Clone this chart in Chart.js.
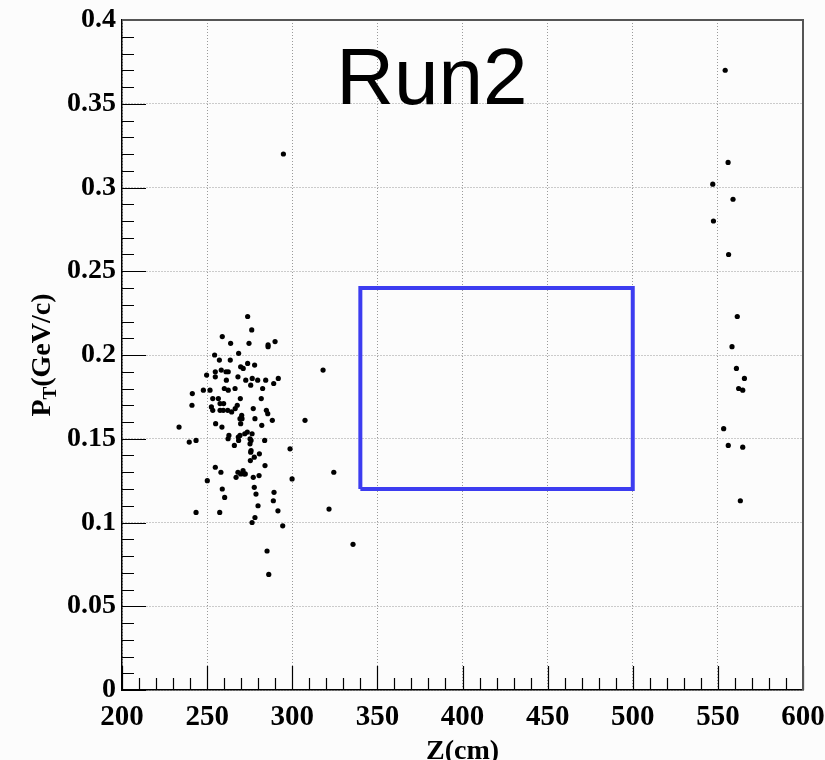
<!DOCTYPE html>
<html>
<head>
<meta charset="utf-8">
<title>Run2</title>
<script src="https://cdn.jsdelivr.net/npm/chart.js@4.4.1/dist/chart.umd.min.js"></script>
<style>
  html, body { margin: 0; padding: 0; background: #fcfcfc; }
  #wrap { width: 825px; height: 760px; }
</style>
</head>
<body>
<div id="wrap"><canvas id="chartCanvas" width="825" height="760"></canvas></div>
<script>
// --- data ---
// main cluster near the target (Z in cm, PT in GeV/c)
const clusterZ = [
  273.8, 276.2, 258.9, 263.8, 274.6, 285.8, 285.8, 289.9, 254.4, 268.5,
  257.2, 263.6, 273.8, 277.9, 269.7, 271.2, 258.3, 254.8, 261.1, 262.4,
  249.7, 254.8, 268.1, 272.7, 276.5, 279.7, 284.4, 291.8, 261.3, 275.6,
  289.1, 247.8, 251.7, 260.1, 262.4, 266.4, 282.6, 241.3, 253.3, 256.6,
  269.5, 281.8, 241.1, 252.5, 257.6, 259.7, 267.7, 253.3, 257.6, 259.5,
  262.1, 266.5, 277.1, 284.8, 264.4, 285.6, 270.3, 269.3, 270.5, 278.1,
  288.3, 269.7, 282.1, 255.0, 258.7, 233.5, 262.8, 262.3, 239.5, 243.5,
  268.3, 269.3, 268.5, 272.1, 273.6, 276.4, 275.2, 275.8, 275.2, 283.8,
  266.0, 298.7, 275.8, 275.6, 280.7, 277.7, 275.4, 284.0, 254.8, 258.1,
  268.1, 271.1, 271.7, 269.7, 272.4, 280.5, 277.1, 267.0, 299.9, 250.1,
  258.9, 277.7, 260.3, 278.7, 289.3, 288.9, 279.9, 257.4, 243.5, 291.6,
  278.1, 276.4, 294.4, 285.2, 286.2
];
const clusterPt = [
  0.223, 0.215, 0.211, 0.207, 0.207, 0.206, 0.205, 0.208, 0.200, 0.201,
  0.197, 0.197, 0.195, 0.194, 0.193, 0.192, 0.191, 0.190, 0.190, 0.190,
  0.188, 0.187, 0.187, 0.185, 0.186, 0.185, 0.185, 0.186, 0.185, 0.182,
  0.183, 0.179, 0.179, 0.180, 0.179, 0.180, 0.180, 0.177, 0.174, 0.174,
  0.174, 0.174, 0.170, 0.169, 0.171, 0.171, 0.170, 0.167, 0.167, 0.167,
  0.167, 0.168, 0.168, 0.167, 0.166, 0.165, 0.164, 0.162, 0.162, 0.162,
  0.161, 0.159, 0.158, 0.159, 0.157, 0.157, 0.152, 0.150, 0.148, 0.149,
  0.151, 0.152, 0.149, 0.153, 0.154, 0.153, 0.150, 0.149, 0.147, 0.149,
  0.146, 0.144, 0.143, 0.142, 0.141, 0.139, 0.137, 0.134, 0.133, 0.130,
  0.130, 0.131, 0.129, 0.129, 0.129, 0.128, 0.127, 0.127, 0.126, 0.125,
  0.120, 0.121, 0.115, 0.117, 0.118, 0.113, 0.110, 0.106, 0.106, 0.107,
  0.103, 0.100, 0.098, 0.083, 0.069
];

// scattered points between the cluster and the box
const strayZ = [318.1, 307.5, 324.4, 321.6, 294.8, 335.7];
const strayPt = [0.191, 0.161, 0.130, 0.108, 0.320, 0.087];

// points near Z = 550 cm
const farZ = [554.3, 556.0, 547.0, 558.9, 547.4, 556.3, 561.4, 558.3, 560.9,
  565.6, 562.2, 564.6, 553.4, 556.1, 564.6, 563.2];
const farPt = [0.370, 0.315, 0.302, 0.293, 0.280, 0.260, 0.223, 0.205, 0.192,
  0.186, 0.180, 0.179, 0.156, 0.146, 0.145, 0.113];

// selection window
const boxZ = [340, 340, 500, 500, 340];
const boxPt = [0.12, 0.24, 0.24, 0.12, 0.12];

// axes
const zRange = [200, 600];
const ptRange = [0, 0.4];

const toPoints = (xs, ys) => xs.map((x, i) => ({ x, y: ys[i] }));

// ROOT style frame: inner ticks, grey top/right edges, titles
const rootFrame = {
  id: "rootFrame",
  afterDraw(chart) {
    const { ctx, chartArea: a, scales: { x, y } } = chart;
    ctx.save();

    // ticks pointing into the frame
    ctx.strokeStyle = "#000";
    ctx.lineWidth = 1.2;
    ctx.beginPath();
    for (let i = 0; i <= 40; i++) {
      const py = Math.round(y.getPixelForValue(i * 0.01)) + 0.5;
      const len = i % 5 === 0 ? 24 : 12;
      ctx.moveTo(a.left, py);
      ctx.lineTo(a.left + len, py);
    }
    for (let i = 0; i <= 40; i++) {
      const px = Math.round(x.getPixelForValue(200 + i * 10)) + 0.5;
      const len = i % 5 === 0 ? 24 : 12;
      ctx.moveTo(px, a.bottom);
      ctx.lineTo(px, a.bottom - len);
    }
    ctx.stroke();

    // top and right edges
    ctx.strokeStyle = "#555";
    ctx.lineWidth = 2;
    ctx.beginPath();
    ctx.moveTo(a.left, a.top);
    ctx.lineTo(a.right, a.top);
    ctx.lineTo(a.right, a.bottom);
    ctx.stroke();

    // big label inside the frame
    ctx.fillStyle = "#000";
    ctx.font = '80px "Liberation Sans", Arial, sans-serif';
    ctx.textAlign = "center";
    ctx.textBaseline = "alphabetic";
    ctx.fillText("Run2", x.getPixelForValue(382), y.getPixelForValue(0.35));

    // x title
    ctx.font = 'bold 28px "Liberation Serif", "Times New Roman", serif';
    ctx.fillText("Z(cm)", (a.left + a.right) / 2, 759);

    // y title with subscript T
    const big = 'bold 28px "Liberation Serif", "Times New Roman", serif';
    const small = 'bold 19px "Liberation Serif", "Times New Roman", serif';
    ctx.font = big;
    const wP = ctx.measureText("P").width;
    const wRest = ctx.measureText("(GeV/c)").width;
    ctx.font = small;
    const wT = ctx.measureText("T").width;
    const total = wP + wT + wRest;
    ctx.translate(50, 355);
    ctx.rotate(-Math.PI / 2);
    ctx.textAlign = "left";
    let cx = -total / 2;
    ctx.font = big;
    ctx.fillText("P", cx, 0);
    cx += wP;
    ctx.font = small;
    ctx.fillText("T", cx, 6);
    cx += wT;
    ctx.font = big;
    ctx.fillText("(GeV/c)", cx, 0);

    ctx.restore();
  }
};

const dot = { pointRadius: 2.6, pointBackgroundColor: "#000", pointBorderWidth: 0, showLine: false };

const config = {
  type: "scatter",
  data: {
    datasets: [
      { label: "cluster", data: toPoints(clusterZ, clusterPt), ...dot },
      { label: "stray", data: toPoints(strayZ, strayPt), ...dot },
      { label: "far", data: toPoints(farZ, farPt), ...dot },
      {
        label: "window",
        data: toPoints(boxZ, boxPt),
        showLine: true,
        borderColor: "#3c3cf0",
        borderWidth: 4,
        pointRadius: 0,
        fill: false
      }
    ]
  },
  options: {
    responsive: false,
    animation: false,
    layout: { padding: { top: 20, right: 22, left: 0, bottom: 0 } },
    plugins: { legend: { display: false }, tooltip: { enabled: false } },
    scales: {
      x: {
        type: "linear",
        min: zRange[0],
        max: zRange[1],
        afterFit: s => { s.height = 70; s.paddingLeft = 0; s.paddingRight = 0; },
        ticks: {
          stepSize: 50,
          autoSkip: false,
          maxRotation: 0,
          padding: 10,
          color: "#000",
          font: { family: '"Liberation Serif", "Times New Roman", serif', size: 29, weight: "bold" }
        },
        grid: { color: "#9a9a9a", lineWidth: 1, drawTicks: false },
        border: { display: true, color: "#000", width: 1.5, dash: [1, 2] }
      },
      y: {
        type: "linear",
        min: ptRange[0],
        max: ptRange[1],
        afterFit: s => { s.width = 122; s.paddingTop = 0; s.paddingBottom = 0; },
        ticks: {
          stepSize: 0.05,
          padding: 6,
          color: "#000",
          font: { family: '"Liberation Serif", "Times New Roman", serif', size: 28, weight: "bold" },
          callback: v => String(+v.toFixed(2))
        },
        grid: { color: "#9a9a9a", lineWidth: 1, drawTicks: false },
        border: { display: true, color: "#000", width: 1.5, dash: [1, 2] }
      }
    }
  },
  plugins: [rootFrame]
};

new Chart(document.getElementById("chartCanvas"), config);
</script>
</body>
</html>
